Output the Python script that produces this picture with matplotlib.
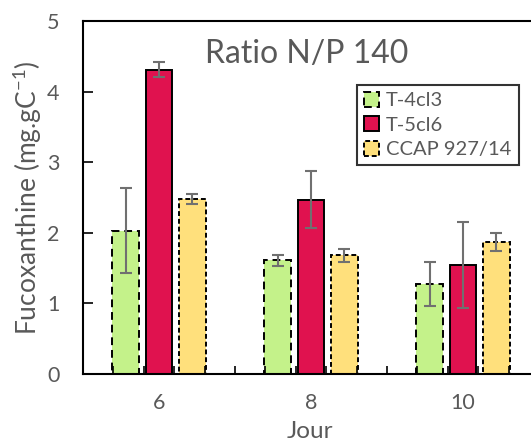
import matplotlib
matplotlib.use('Agg')
import matplotlib.pyplot as plt
import numpy as np

plt.rcParams['font.family'] = ['Lato', 'DejaVu Sans']

# Data
days = [6, 8, 10]
series = ['T-4cl3', 'T-5cl6', 'CCAP 927/14']
values = {
    'T-4cl3': [2.03, 1.61, 1.27],
    'T-5cl6': [4.31, 2.47, 1.54],
    'CCAP 927/14': [2.48, 1.68, 1.87],
}
errors = {
    'T-4cl3': [0.60, 0.08, 0.31],
    'T-5cl6': [0.11, 0.40, 0.61],
    'CCAP 927/14': [0.07, 0.09, 0.13],
}

COLORS = {'T-4cl3': '#C4F28A', 'T-5cl6': '#E0124F', 'CCAP 927/14': '#FFE07C'}
STYLES = {'T-4cl3': (0, (4, 2.5)), 'T-5cl6': '-', 'CCAP 927/14': (0, (2.5, 1.5))}
OFFSETS = {'T-4cl3': -0.44, 'T-5cl6': 0.0, 'CCAP 927/14': 0.44}
TEXT = '#595959'

fig = plt.figure(figsize=(5.31, 4.41), dpi=100)
ax = fig.add_axes([83 / 531, 67 / 441, 456 / 531, 353 / 441])
ax.set_axisbelow(False)

for name in series:
    x = np.array(days) + OFFSETS[name]
    ax.bar(x, values[name], width=0.35, color=COLORS[name], edgecolor='black',
           linewidth=1.4, linestyle=STYLES[name], label=name, zorder=1)
    ax.errorbar(x, values[name], yerr=errors[name], fmt='none', ecolor='#707070',
                elinewidth=1.5, capsize=4, capthick=1.5, zorder=3)

ax.set_xlim(5, 11)
ax.set_ylim(0, 5)
ax.set_xticks(days)
ax.set_xticks(np.arange(5.4, 11, 0.4), minor=True)
ax.set_yticks(range(0, 6))
ax.tick_params(axis='y', direction='in', length=7, width=1.2, colors='black',
               labelcolor=TEXT, labelsize=15.5, pad=17)
ax.tick_params(axis='x', which='major', length=0, labelcolor=TEXT, labelsize=15.5, pad=14)
ax.tick_params(axis='x', which='minor', direction='in', length=6, width=1.2)
for side in ['left', 'bottom', 'top', 'right']:
    ax.spines[side].set_linewidth(1.5)

ax.set_ylabel('Fucoxanthine (mg.gC$^{\\mathregular{-1}}$)', fontsize=19, color=TEXT,
              labelpad=2)
fig.text(310 / 531, 1 - 431 / 441, 'Jour', fontsize=17.5, color=TEXT,
         ha='center', va='center')

fig.text(307 / 531, 1 - 54 / 441, 'Ratio N/P 140', fontsize=23, color=TEXT,
         ha='center', va='center')

leg = ax.legend(loc='upper left', bbox_to_anchor=(357 / 531, 1 - 85 / 441),
                bbox_transform=fig.transFigure, fontsize=14.5, frameon=True,
                fancybox=False, handlelength=0.75, handleheight=0.75,
                handletextpad=0.35, borderpad=0.35, labelspacing=0.35,
                borderaxespad=0)
leg.get_frame().set_edgecolor('black')
leg.get_frame().set_linewidth(1.5)
for t in leg.get_texts():
    t.set_color(TEXT)

fig.savefig('out.png', dpi=100, facecolor='white')
